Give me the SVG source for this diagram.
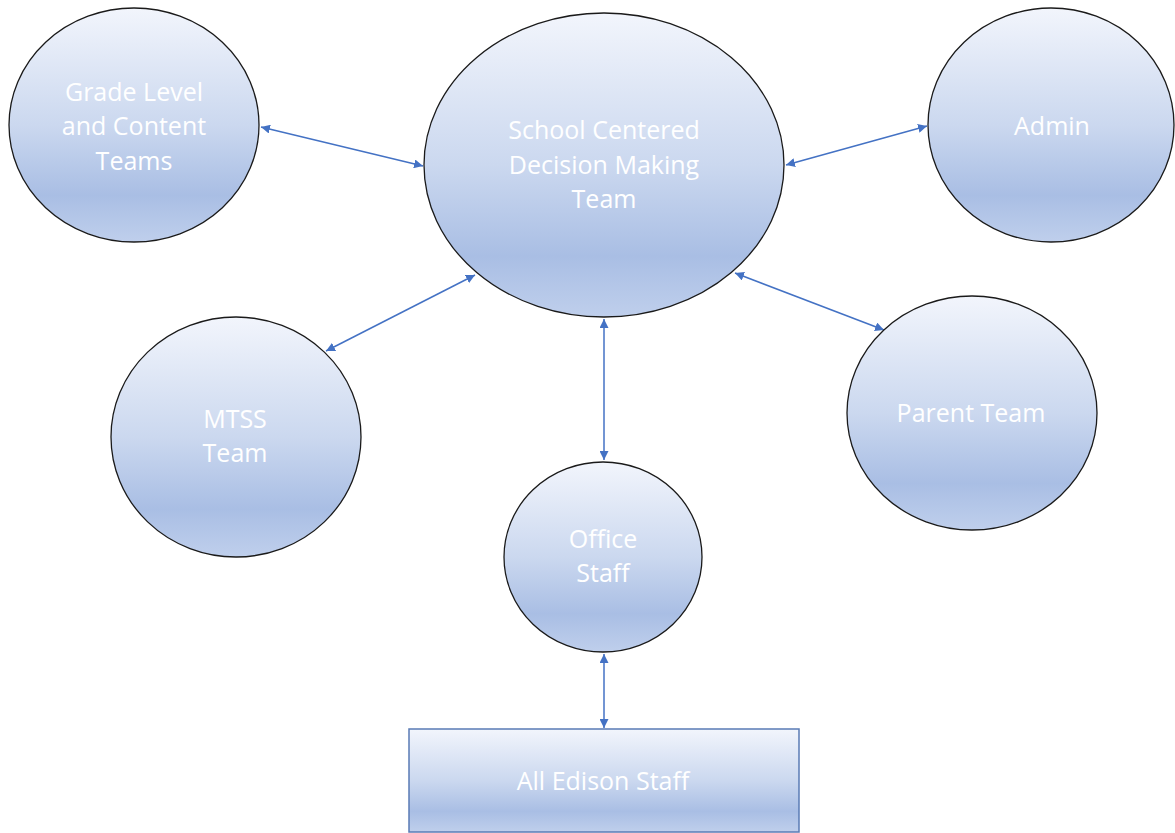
<svg xmlns="http://www.w3.org/2000/svg" width="1175" height="833" viewBox="0 0 1175 833">
<style>
.node{stroke:#1a1a1a;stroke-width:1.3;fill:url(#g)}
.box{stroke:#5a7bb5;stroke-width:1.5;fill:url(#g)}
.lbl{font-family:"Open Sans",Lato,"Liberation Sans",sans-serif;font-size:25px;fill:#ffffff;text-anchor:middle}
.conn{stroke:#4472c4;stroke-width:1.5;fill:none;marker-start:url(#ah);marker-end:url(#ah)}
</style>
<defs>
<linearGradient id="g" x1="0" y1="0" x2="0" y2="1">
<stop offset="0" stop-color="#f2f5fc"/>
<stop offset="0.5" stop-color="#cbd8ef"/>
<stop offset="0.8" stop-color="#a9bee4"/>
<stop offset="1" stop-color="#bfcfec"/>
</linearGradient>
<marker id="ah" viewBox="0 0 10 10" refX="10" refY="5" markerWidth="6" markerHeight="6" orient="auto-start-reverse" markerUnits="strokeWidth">
<path d="M0,0 L10,5 L0,10 z" fill="#4472c4"/>
</marker>
</defs>
<rect width="1175" height="833" fill="#ffffff"/>
<g id="connectors">
<line class="conn" x1="261" y1="127" x2="423" y2="166"/>
<line class="conn" x1="786" y1="165" x2="927" y2="126"/>
<line class="conn" x1="326" y1="351" x2="475" y2="275"/>
<line class="conn" x1="735" y1="273" x2="884" y2="330"/>
<line class="conn" x1="604" y1="319" x2="604" y2="460"/>
<line class="conn" x1="604" y1="654" x2="604" y2="728"/>
</g>
<g id="center">
<ellipse class="node" cx="604" cy="165" rx="180" ry="152"/>
<text class="lbl" x="604" y="139">School Centered</text>
<text class="lbl" x="604" y="174">Decision Making</text>
<text class="lbl" x="604" y="208">Team</text>
</g>
<g id="grade">
<ellipse class="node" cx="134" cy="125" rx="125" ry="117"/>
<text class="lbl" x="134" y="101">Grade Level</text>
<text class="lbl" x="134" y="135">and Content</text>
<text class="lbl" x="134" y="170">Teams</text>
</g>
<g id="admin">
<ellipse class="node" cx="1051" cy="125" rx="123" ry="117"/>
<text class="lbl" x="1052" y="135">Admin</text>
</g>
<g id="mtss">
<ellipse class="node" cx="236" cy="437" rx="125" ry="120"/>
<text class="lbl" x="235" y="428">MTSS</text>
<text class="lbl" x="235" y="462">Team</text>
</g>
<g id="parent">
<ellipse class="node" cx="972" cy="413" rx="125" ry="117"/>
<text class="lbl" x="971" y="422">Parent Team</text>
</g>
<g id="office">
<ellipse class="node" cx="603" cy="557" rx="99" ry="95"/>
<text class="lbl" x="603" y="548">Office</text>
<text class="lbl" x="603" y="582">Staff</text>
</g>
<g id="alledison">
<rect class="box" x="409" y="729" width="390" height="103"/>
<text class="lbl" x="603" y="790">All Edison Staff</text>
</g>
</svg>
